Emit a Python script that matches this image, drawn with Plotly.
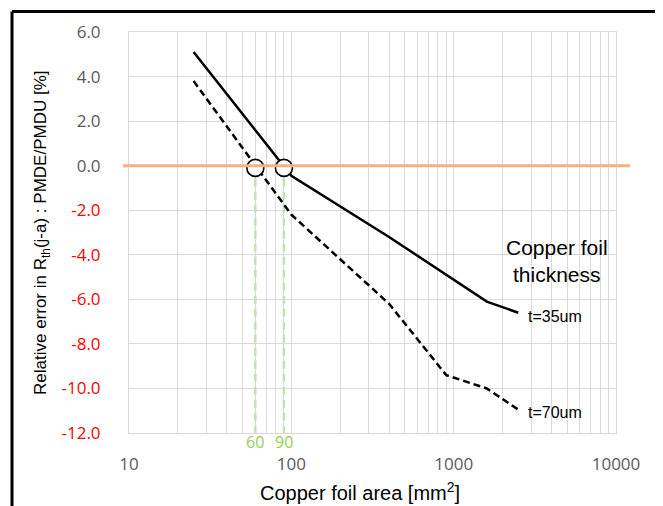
import numpy as np
import plotly.graph_objects as go

# Data
area = [25, 100, 400, 900, 1600, 2500]
err_35 = [5.1, -0.45, -3.2, -4.9, -6.1, -6.6]
err_70 = [3.8, -2.2, -6.2, -9.4, -10.0, -10.95]
cross_x = [60, 90]
cross_y = [-0.1, -0.1]
y_ticks = [6, 4, 2, 0, -2, -4, -6, -8, -10, -12]
x_ticks = [10, 100, 1000, 10000]

GRAY = "#595959"
GRID = "#d9d9d9"
OFF = 8  # page body margin
W, H = 663 - OFF, 506 - OFF
L, R, T, B = 129 - OFF, 616 - OFF, 32 - OFF, 433 - OFF
PW, PH = R - L, B - T

def px_x(p):
    return (p - OFF - L) / PW

def px_y(p):
    return (B - (p - OFF)) / PH

def ylab(v):
    s = f"{v:.1f}"
    return f"<span style='color:red'>{s}</span>" if v < 0 else s

fig = go.Figure()

# green dashed verticals
for cx in cross_x:
    fig.add_trace(go.Scatter(x=[cx, cx], y=[0, y_ticks[-1]], mode="lines",
                             line=dict(color="#c5e0b4", width=2.5, dash="8px,5px"),
                             showlegend=False, hoverinfo="skip"))

fig.add_trace(go.Scatter(x=area, y=err_35, mode="lines",
                         line=dict(color="black", width=2.5), showlegend=False))
fig.add_trace(go.Scatter(x=area, y=err_70, mode="lines",
                         line=dict(color="black", width=2.5, dash="7px,4px"), showlegend=False))

# orange zero line (extends slightly beyond plot)
fig.add_shape(type="line", xref="paper", yref="y", x0=px_x(123), x1=px_x(630), y0=0, y1=0,
              line=dict(color="#f4b183", width=3), layer="above")

fig.add_trace(go.Scatter(x=cross_x, y=cross_y, mode="markers",
                         marker=dict(size=17, color="white", line=dict(color="black", width=1.6)),
                         showlegend=False))

# outer frame (drawn as separate edges)
fx0, fx1, fy_top, fy_bot = px_x(12), px_x(661), px_y(11.5), px_y(520)
for (a, b, c, d) in [(fx0, fy_top, fx1, fy_top), (fx0, fy_top, fx0, fy_bot), (fx1, fy_top, fx1, fy_bot)]:
    fig.add_shape(type="line", xref="paper", yref="paper", x0=a, y0=b, x1=c, y1=d,
                  line=dict(color="black", width=3), layer="above")

for cx in cross_x:
    fig.add_annotation(x=np.log10(cx), y=px_y(442), xref="x", yref="paper",
                       xanchor="center", yanchor="middle",
                       text=str(cx), showarrow=False,
                       font=dict(family="Open Sans", size=16, color="#92d050"))

fig.add_annotation(x=np.log10(area[-1]), y=err_35[-1] - 0.15, xref="x", yref="y",
                   xanchor="left", yanchor="middle", text="t=35um", showarrow=False, xshift=8,
                   font=dict(family="Liberation Sans", size=16, color="black"))
fig.add_annotation(x=np.log10(area[-1]), y=err_70[-1] - 0.15, xref="x", yref="y",
                   xanchor="left", yanchor="middle", text="t=70um", showarrow=False, xshift=8,
                   font=dict(family="Liberation Sans", size=16, color="black"))
fig.add_annotation(x=px_x(557), y=px_y(261), xref="paper", yref="paper",
                   xanchor="center", yanchor="middle",
                   text="Copper foil<br>thickness", showarrow=False,
                   font=dict(family="Liberation Sans", size=21, color="black"))

fig.add_annotation(x=px_x(360), y=px_y(491), xref="paper", yref="paper",
                   xanchor="center", yanchor="middle",
                   text="Copper foil area [mm<sup>2</sup>]", showarrow=False,
                   font=dict(family="Liberation Sans", size=20, color="black"))
fig.add_annotation(x=px_x(42), y=px_y(233), xref="paper", yref="paper", textangle=-90,
                   xanchor="center", yanchor="middle",
                   text="Relative error in R<sub>th</sub>(j-a) : PMDE/PMDU [%]", showarrow=False,
                   font=dict(family="Liberation Sans", size=17, color="black"))

fig.update_layout(
    width=W, height=H,
    margin=dict(l=L, r=W - R, t=T, b=H - B),
    paper_bgcolor="white", plot_bgcolor="white",
    xaxis=dict(type="log", range=[1, 4], tickvals=x_ticks, ticktext=[str(v) for v in x_ticks],
               showgrid=True, gridcolor=GRID, gridwidth=1.3, automargin=False,
               minor=dict(dtick="D1", showgrid=True, gridcolor=GRID, gridwidth=1),
               zeroline=False, showline=True, linecolor=GRID, mirror=True,
               ticks="", ticklabelstandoff=16,
               tickfont=dict(family="Open Sans", size=17, color=GRAY)),
    yaxis=dict(range=[-12, 6], tickvals=y_ticks, ticktext=[ylab(v) for v in y_ticks],
               showgrid=True, gridcolor=GRID, gridwidth=1.3, zeroline=False, automargin=False,
               showline=True, linecolor=GRID, mirror=True,
               ticks="", ticklabelstandoff=24,
               tickfont=dict(family="Open Sans", size=17, color=GRAY)),
)

fig.write_html("out.html")
